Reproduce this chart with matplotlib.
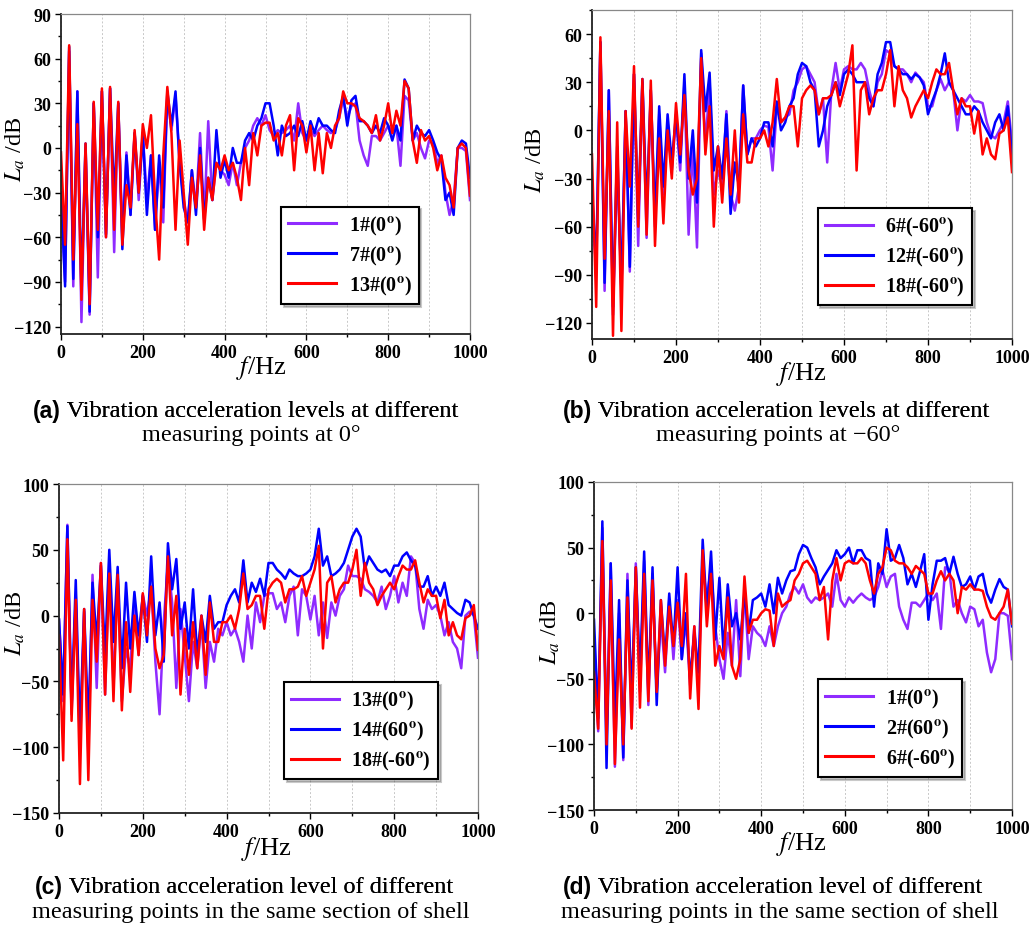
import numpy as np
import matplotlib
matplotlib.use("Agg")
import matplotlib.pyplot as plt
from matplotlib.ticker import MultipleLocator

plt.rcParams['font.family'] = ['Liberation Serif', 'DejaVu Serif']
plt.rcParams['mathtext.fontset'] = 'stix'

# frequency grid (Hz)
freq = list(range(0, 1001, 10))

# vibration acceleration level (dB)
s1 = [-30, -90, 65, -93, 38, -117, 0, -112, 30, -87,
      38, -60, 40, -70, 30, -60, -3, -45, 10, -35,
      10, -35, -5, -55, -10, -50, 35, 12, 35, -10,
      -35, -50, -15, -40, 10, -48, 18, -35, -10, -15,
      -18, -25, -10, -25, -10, 0, 5, 15, 20, 15,
      22, 12, 8, 12, 10, 12, 15, 5, 30, 10,
      5, 12, 8, 12, 15, 12, 10, 12, 20, 33,
      20, 28, 30, 5, -5, -12, 8, 8, 5, 10,
      15, 10, 15, -12, 35, 32, 5, 10, 0, -7,
      5, 3, -10, -5, -30, -45, -35, 0, 0, -2,
      -35]
s7 = [-30, -93, 68, -88, 38, -95, 3, -110, 30, -60,
      38, -58, 40, -35, 30, -68, -5, -45, 10, -30,
      10, -45, -5, -55, -5, -40, 38, 15, 38, -10,
      -40, -50, -15, -45, 0, -48, -20, -35, 12, -20,
      -8, -20, 0, -10, -10, 5, 10, 5, 15, 20,
      30, 30, 15, -5, 15, 8, 10, 15, 8, 18,
      5, 18, 10, 20, 15, 15, 12, 10, 25, 35,
      15, 32, 35, 18, 18, 15, 10, 15, 10, 20,
      15, 5, 15, 5, 46, 40, 5, 15, 10, 8,
      12, 5, -3, -8, -35, -30, -45, 0, 5, 3,
      -20]
s13 = [-3, -65, 69, -75, 16, -102, 3, -105, 31, -55,
       40, -60, 41, -55, 31, -65, -25, -40, 12, -30,
       16, 0, 22, -35, -75, -5, 41, 10, -55, 5,
       -30, -65, -20, -40, -5, -55, -20, -35, -10, -15,
       -5, -15, -10, -20, -35, 0, -25, 10, -5, 15,
       17, 17, 5, 10, -5, 15, 22, -15, 20, 15,
       -3, 15, -15, 10, -17, 10, 0, 15, 20, 38,
       30, 30, 28, 20, 18, 15, 10, 22, 5, 15,
       30, 10, 25, 15, 45, 40, 5, -10, 12, 5,
       8, 0, -15, -5, -20, -25, -40, 0, 3, 0,
       -32]
s6 = [-45, -88, 55, -100, 25, -115, -20, -100, 12, -88,
      35, -72, 30, -67, 25, -60, 10, -40, 5, -25,
      8, -25, 30, -65, -10, -73, 48, -10, 30, -40,
      -25, -35, 12, -40, -50, -35, 28, -15, -5, -5,
      0, 3, 2, -25, 15, 5, 8, 10, 25, 30,
      38, 40, 35, 30, 10, 20, -20, 25, 42, 25,
      38, 40, 38, 38, 42, 38, 25, 15, 30, 35,
      50, 48, 40, 38, 38, 35, 30, 36, 33, 30,
      15, 15, 25, 32, 25, 30, 25, 0, 20, 18,
      22, 18, 18, 17, 5, -3, -5, 0, 5, 18,
      -8]
s12 = [-38, -85, 55, -95, 25, -110, -10, -100, 12, -85,
       35, -55, 32, -50, 25, -55, 15, -35, 10, -20,
       10, -20, 35, -30, 0, -45, 50, 12, 36, -25,
       -10, -30, 10, -52, -20, -35, 28, -15, -5, -10,
       -5, 5, 5, -10, 18, 0, 5, 15, 20, 35,
       42, 40, 30, 25, -10, 0, 15, 22, 30, 22,
       35, 38, 35, 30, 30, 30, 20, 15, 35, 42,
       55, 55, 40, 38, 35, 35, 32, 35, 33, 28,
       10, 18, 25, 35, 48, 30, 25, 20, 15, 10,
       10, 15, 12, 5, 0, -5, 5, 10, 0, 15,
       -15]
s18 = [-15, -110, 58, -80, 12, -128, 5, -125, 12, -35,
       40, -60, 32, -65, 31, -72, -5, -58, 0, -30,
       17, -15, 22, -25, -40, -30, 45, -15, 15, -60,
       -10, -45, -5, -40, 0, -45, 10, -20, -20, -5,
       -5, 0, -10, 5, 32, 5, 8, 15, 15, -10,
       20, 25, 28, 25, 10, 20, 20, 22, 30, 15,
       25, 35, 53, -25, 25, 30, 10, 20, 25, 25,
       35, 50, 15, 40, 25, 20, 8, 15, 20, 25,
       20, 30, 38, 35, 35, 42, 25, 10, 20, 15,
       15, -2, 12, -15, -5, -15, -18, -2, 0, 8,
       -26]
s14 = [-3, -60, 68, -70, 27, -90, 5, -85, 25, -20,
       38, -30, 50, -20, 37, -40, 25, -25, 18, -15,
       15, -20, 45, -15, 10, -35, 55, 20, 43, -10,
       10, -25, 20, -30, 0, -20, 15, -10, -5, -5,
       8, 15, 20, 10, 42, 10, 25, 18, 28, 15,
       40, 40, 35, 32, 28, 35, 32, 30, 30, 32,
       35, 45, 66, 38, 45, 30, 32, 35, 40, 50,
       60, 66, 60, 35, 45, 40, 35, 33, 35, 30,
       38, 38, 45, 48, 42, 38, 22, 22, 30, 15,
       22, 15, 25, 8, 5, 2, 0, 12, 10, 0,
       -10]
s2 = [-5, -80, 70, -118, 38, -85, 10, -110, 25, -65,
      35, -50, 47, -60, 35, -70, 10, -35, 15, -25,
      35, -35, 0, -50, -15, -45, 56, 0, 47, -20,
      27, -30, 22, -10, 0, -20, 15, -15, 10, 12,
      15, 5, 22, 0, 27, 15, 25, 32, 33, 45,
      52, 50, 42, 35, 22, 28, 33, 38, 48, 42,
      45, 50, 38, 48, 48, 42, 40, 5, 38, 30,
      64, 40, 42, 52, 42, 22, 30, 20, 32, 45,
      -5, 22, 40, 40, 42, 30, 43, 30, 20, 22,
      28, 18, 28, 30, 15, 8, 18, 26, 20, 18,
      -10]

PURPLE = '#8f2bff'
BLUE = '#0000ff'
RED = '#ff0000'

W, H = 1033, 937
fig = plt.figure(figsize=(W / 100, H / 100), dpi=100)
axes = []


def px_axes(l, r, t, b):
    return fig.add_axes([l / W, 1 - b / H, (r - l) / W, (b - t) / H])


def panel(ax, series, labels, ylim, ystep, ylab_xy, xlab_xy, leg_x):
    for s, c, lab in zip(series, [PURPLE, BLUE, RED], labels):
        ax.plot(freq, s, color=c, lw=1.8, label=lab)
    ax.set_xlim(0, 1000)
    ax.set_ylim(*ylim)
    ax.xaxis.set_major_locator(MultipleLocator(200))
    ax.xaxis.set_minor_locator(MultipleLocator(100))
    ax.yaxis.set_major_locator(MultipleLocator(ystep))
    ax.yaxis.set_minor_locator(MultipleLocator(ystep / 2))
    ax.grid(True, which='both', axis='x', color='#c8c8c8', ls=(0, (2, 2)), lw=0.7)
    ax.tick_params(which='both', direction='out', top=False, right=False, width=1.0)
    ax.tick_params(which='major', length=4, labelsize=13, pad=3)
    ax.tick_params(which='minor', length=2.5)
    for sp in ['left', 'bottom']:
        ax.spines[sp].set_linewidth(1.3)
        ax.spines[sp].set_color('#222222')
    for sp in ['top', 'right']:
        ax.spines[sp].set_linewidth(0.9)
        ax.spines[sp].set_color('#888888')
    ax.set_ylabel('$L_a$ /dB', fontsize=17.5)
    ax.yaxis.set_label_coords(*ylab_xy)
    ax.set_xlabel('$f$/Hz', fontsize=19)
    ax.xaxis.set_label_coords(*xlab_xy)
    leg = ax.legend(loc='upper left', bbox_to_anchor=(leg_x, 0.398), borderaxespad=0,
                    prop={'weight': 'bold', 'size': 14.5}, frameon=True, fancybox=False,
                    edgecolor='black', framealpha=1, shadow={'alpha': 0.3},
                    handlelength=2.4, handletextpad=0.6, borderpad=0.35,
                    labelspacing=0.35)
    leg.get_frame().set_linewidth(1.5)
    for ln in leg.get_lines():
        ln.set_linewidth(2.2)
    axes.append(ax)


def caption(tag, line1, line2, x1, xc, y1, y2):
    t = fig.text(x1 / W, 1 - y1 / H, tag, fontfamily='Liberation Sans',
                 fontweight='bold', fontsize=16.5, va='center', ha='left')
    ann = plt.annotate(' ' + line1, xy=(1, 0.5), xycoords=t, va='center', ha='left',
                       fontsize=17.5, annotation_clip=False)
    fig.add_artist(ann)
    fig.text(xc / W, 1 - y2 / H, line2, fontsize=17.5, va='center', ha='center')


ax_a = px_axes(61, 470, 15, 335)
panel(ax_a, [s1, s7, s13], ['1#(0$^\\mathbf{o}$)', '7#(0$^\\mathbf{o}$)', '13#(0$^\\mathbf{o}$)'],
      (-125, 90), 30, (-0.083, 0.58), (0.49, -0.06), 0.538)

ax_b = px_axes(592, 1012, 11, 340)
panel(ax_b, [s6, s12, s18], ['6#(-60$^\\mathbf{o}$)', '12#(-60$^\\mathbf{o}$)', '18#(-60$^\\mathbf{o}$)'],
      (-130, 75), 30, (-0.107, 0.547), (0.498, -0.06), 0.537)

ax_c = px_axes(59, 478, 485, 814)
panel(ax_c, [s13, s14, s18], ['13#(0$^\\mathbf{o}$)', '14#(60$^\\mathbf{o}$)', '18#(-60$^\\mathbf{o}$)'],
      (-150, 100), 50, (-0.076, 0.58), (0.495, -0.063), 0.537)

ax_d = px_axes(594, 1012, 483, 811)
panel(ax_d, [s1, s2, s6], ['1#(0$^\\mathbf{o}$)', '2#(60$^\\mathbf{o}$)', '6#(-60$^\\mathbf{o}$)'],
      (-150, 100), 50, (-0.077, 0.545), (0.497, -0.057), 0.536)

caption('(a)', 'Vibration acceleration levels at different', 'measuring points at 0\u00b0',
        33, 251, 412, 436)
caption('(b)', 'Vibration acceleration levels at different', 'measuring points at \u221260\u00b0',
        563, 778, 412, 436)
caption('(c)', 'Vibration acceleration level of different',
        'measuring points in the same section of shell', 35, 251, 888, 913)
caption('(d)', 'Vibration acceleration level of different',
        'measuring points in the same section of shell', 563, 780, 888, 913)

# bold tick labels, set after a draw so every tick object exists
fig.canvas.draw()
for ax in axes:
    for tk in ax.xaxis.get_major_ticks() + ax.yaxis.get_major_ticks():
        tk.label1.set_fontweight('bold')
        tk.label1.set_fontfamily('Liberation Serif')

fig.savefig('out.png', dpi=100)
